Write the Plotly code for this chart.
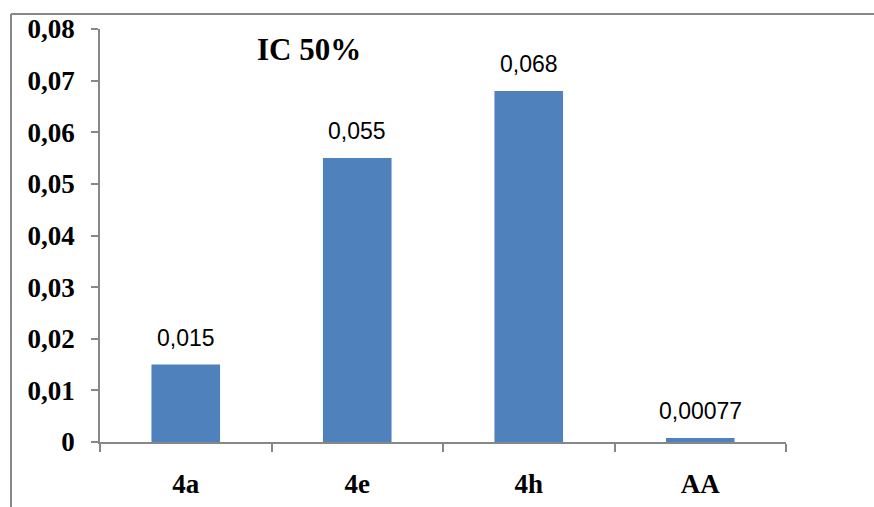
import plotly.graph_objects as go

categories = ["4a", "4e", "4h", "AA"]
values = [0.015, 0.055, 0.068, 0.00077]
value_labels = ["0,015", "0,055", "0,068", "0,00077"]
tick_vals = [0, 0.01, 0.02, 0.03, 0.04, 0.05, 0.06, 0.07, 0.08]
tick_text = ["0", "0,01", "0,02", "0,03", "0,04", "0,05", "0,06", "0,07", "0,08"]
title_text = "IC 50%"

W, H = 874, 507
L, R, T, B = 100, 88, 29, 65
pw, ph = W - L - R, H - T - B

axis_color = "#878787"
serif = "Liberation Serif, Times New Roman, serif"

fig = go.Figure()
fig.add_trace(go.Bar(
    x=categories, y=values,
    marker=dict(color="#4F81BD", line=dict(width=0)),
    width=0.40, hoverinfo="skip",
))

for c, v, t in zip(categories, values, value_labels):
    fig.add_annotation(x=c, y=v, text=t, showarrow=False, yanchor="middle",
                       yshift=27, font=dict(family="Liberation Sans, Arial, sans-serif",
                                            size=23, color="black"))

fig.add_annotation(xref="paper", yref="paper", x=(309 - L) / pw, y=(H - B - 50) / ph,
                   text="<b>" + title_text + "</b>", showarrow=False,
                   xanchor="center", yanchor="middle",
                   font=dict(family=serif, size=31, color="black"))

# outer chart border (left and top visible)
fig.add_shape(type="line", xref="paper", yref="paper",
              x0=(11 - L) / pw, x1=(11 - L) / pw, y0=(H - B - 14) / ph, y1=(H - B - 510) / ph,
              line=dict(color=axis_color, width=2))
fig.add_shape(type="line", xref="paper", yref="paper",
              x0=(11 - L) / pw, x1=(880 - L) / pw, y0=(H - B - 14) / ph, y1=(H - B - 14) / ph,
              line=dict(color=axis_color, width=2))

fig.update_layout(
    width=W, height=H,
    margin=dict(l=L, r=R, t=T, b=B, pad=0, autoexpand=False),
    paper_bgcolor="white", plot_bgcolor="white",
    showlegend=False,
    bargap=0.6,
)
fig.update_xaxes(
    automargin=False,
    showline=True, linecolor=axis_color, linewidth=1.5,
    showgrid=False, zeroline=False,
    ticks="outside", ticklen=8, tickcolor=axis_color, tickwidth=1.5,
    tickson="boundaries",
    ticklabelstandoff=17,
    tickfont=dict(family=serif, size=27, color="black"),
    tickprefix="<b>", ticksuffix="</b>",
)
fig.update_yaxes(
    automargin=False,
    range=[0, 0.08],
    showline=True, linecolor=axis_color, linewidth=1.5,
    showgrid=False, zeroline=False,
    ticks="outside", ticklen=7, tickcolor=axis_color, tickwidth=1.5,
    tickvals=tick_vals, ticktext=["<b>" + t + "</b>" for t in tick_text],
    ticklabelstandoff=11,
    tickfont=dict(family=serif, size=27, color="black"),
)

fig.write_html("out.html")
